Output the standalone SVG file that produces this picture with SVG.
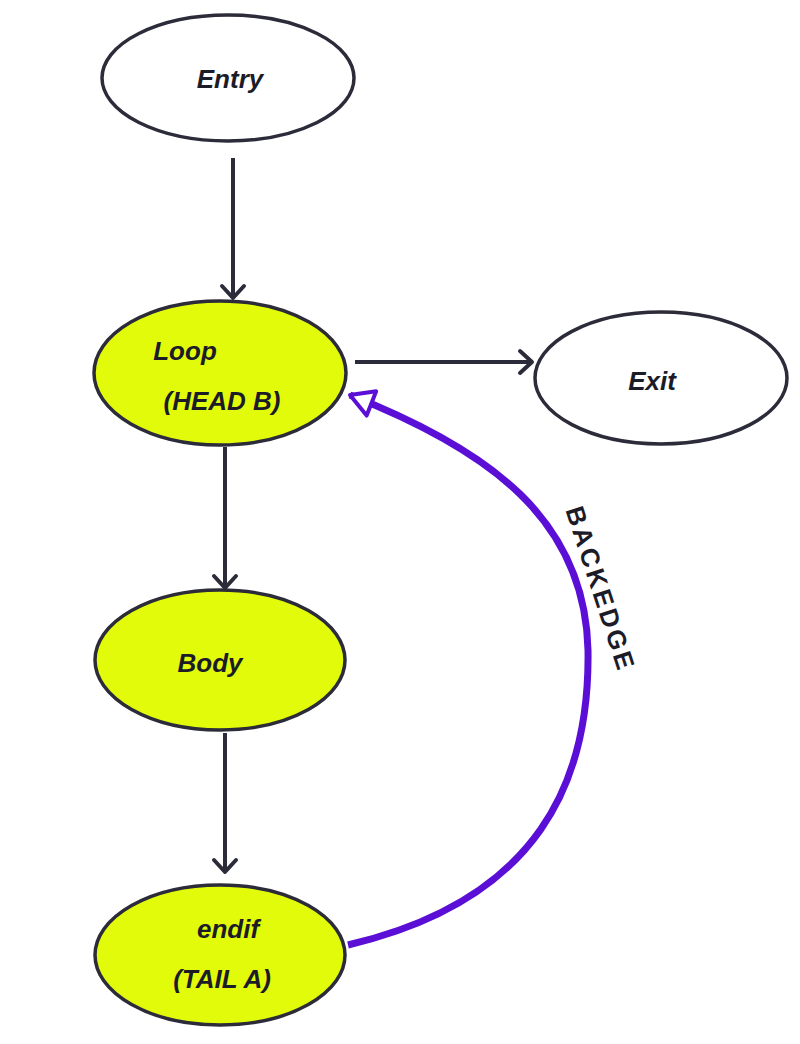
<svg xmlns="http://www.w3.org/2000/svg" width="800" height="1044" viewBox="0 0 800 1044">
<style>
.n{stroke:#2b2b3a;stroke-width:3.5}
.w{fill:#fff}.y{fill:#e2fb0a}
.t{font-family:"Liberation Sans",sans-serif;font-size:26px;font-weight:bold;fill:#1c1c28;text-anchor:middle;font-style:italic}
.c{stroke:#2b2b3a;stroke-width:4;fill:none}
</style>
<defs>
<marker id="a" markerWidth="20" markerHeight="30" refX="15" refY="15" orient="auto" markerUnits="userSpaceOnUse" viewBox="0 0 20 30"><path d="M3,4 L15,15 L3,26" fill="none" stroke="#2b2b3a" stroke-width="4" stroke-linecap="round" stroke-linejoin="round"/></marker>
<marker id="b" markerWidth="34" markerHeight="34" refX="28" refY="17" orient="auto" markerUnits="userSpaceOnUse" viewBox="0 0 34 34"><path d="M28,17 L5,4 L5,30 Z" fill="#fff" stroke="#5b0fd6" stroke-width="4" stroke-linejoin="round"/></marker>
</defs>
<g id="entry"><ellipse class="n w" cx="228" cy="78" rx="126" ry="63"/><text class="t" x="230" y="88">Entry</text></g>
<g id="loop"><ellipse class="n y" cx="220" cy="373" rx="126" ry="72"/><text class="t" x="185" y="360">Loop</text><text class="t" x="222" y="410">(HEAD B)</text></g>
<g id="exit"><ellipse class="n w" cx="661" cy="378" rx="126" ry="66"/><text class="t" x="652" y="390">Exit</text></g>
<g id="body"><ellipse class="n y" cx="220" cy="660" rx="125" ry="70"/><text class="t" x="210" y="672">Body</text></g>
<g id="endif"><ellipse class="n y" cx="220" cy="955" rx="125" ry="70"/><text class="t" x="228" y="938">endif</text><text class="t" x="222" y="988">(TAIL A)</text></g>
<g id="connectors">
<line class="c" x1="233" y1="158" x2="233" y2="298" marker-end="url(#a)"/>
<line class="c" x1="355" y1="362" x2="532" y2="362" marker-end="url(#a)"/>
<line class="c" x1="225" y1="447" x2="225" y2="588" marker-end="url(#a)"/>
<line class="c" x1="225" y1="733" x2="225" y2="872" marker-end="url(#a)"/>
<path d="M348,945 C540,900 590,780 588,650 C585,520 490,450 350,395" fill="none" stroke="#5b0fd6" stroke-width="7" marker-end="url(#b)"/>
<text class="t" transform="translate(592,592) rotate(72)" style="font-style:normal;letter-spacing:3px">BACKEDGE</text>
</g>
</svg>
